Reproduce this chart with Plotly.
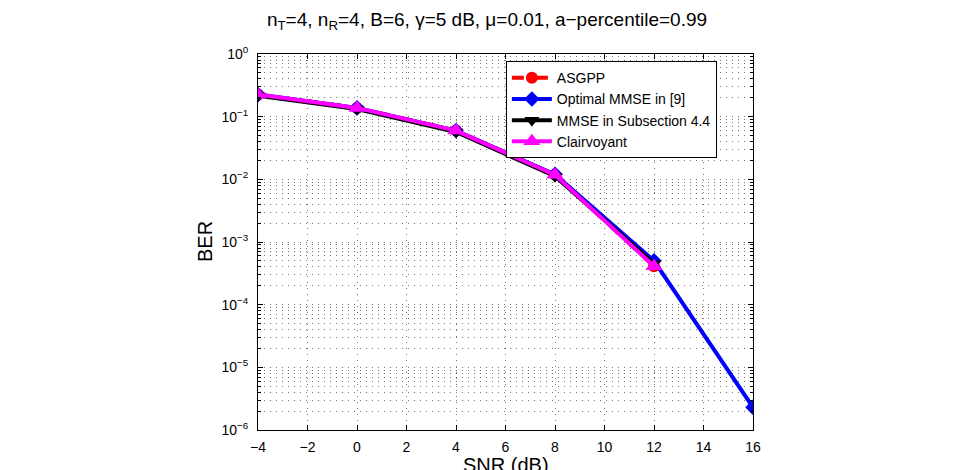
import plotly.graph_objects as go

snr = [-4, 0, 4, 8, 12, 16]
asgpp = [0.225, 0.138, 0.060, 0.0118, 0.00041]
optimal_mmse = [0.225, 0.138, 0.060, 0.0120, 0.00050, 2.3e-6]
mmse_sub44 = [0.215, 0.132, 0.057, 0.0112, 0.00045]
clairvoyant = [0.225, 0.138, 0.060, 0.0118, 0.00041]

ytick_vals = [1e0, 1e-1, 1e-2, 1e-3, 1e-4, 1e-5, 1e-6]
ytick_text = ["10<sup>0</sup>", "10<sup>−1</sup>", "10<sup>−2</sup>", "10<sup>−3</sup>",
              "10<sup>−4</sup>", "10<sup>−5</sup>", "10<sup>−6</sup>"]
xtick_vals = [-4, -2, 0, 2, 4, 6, 8, 10, 12, 14, 16]
xtick_text = ["−4", "−2", "0", "2", "4", "6", "8", "10", "12", "14", "16"]

font = "Liberation Sans, Arial, Helvetica, sans-serif"

fig = go.Figure()
fig.add_trace(go.Scatter(x=snr[:len(asgpp)], y=asgpp, name="ASGPP", mode="lines+markers",
                         line=dict(color="#ff0000", width=4, dash="dash"),
                         marker=dict(symbol="circle", size=12, color="#ff0000")))
fig.add_trace(go.Scatter(x=snr, y=optimal_mmse, name="Optimal MMSE in [9]", mode="lines+markers",
                         line=dict(color="#0000ff", width=4),
                         marker=dict(symbol="diamond", size=12, color="#0000ff")))
fig.add_trace(go.Scatter(x=snr[:len(mmse_sub44)], y=mmse_sub44, name="MMSE in Subsection 4.4",
                         mode="lines+markers",
                         line=dict(color="#000000", width=4),
                         marker=dict(symbol="triangle-down", size=13, color="#000000")))
fig.add_trace(go.Scatter(x=snr[:len(clairvoyant)], y=clairvoyant, name="Clairvoyant",
                         mode="lines+markers",
                         line=dict(color="#ff00ff", width=4),
                         marker=dict(symbol="triangle-up", size=15, color="#ff00ff")))

grid = dict(gridcolor="#777777", gridwidth=1, griddash="1px,5px")

fig.update_layout(
    width=960, height=470,
    margin=dict(l=258, r=207, t=54, b=40),
    paper_bgcolor="white", plot_bgcolor="white",
    font=dict(family=font, size=14, color="black"),
    title=dict(text="n<sub>T</sub>=4, n<sub>R</sub>=4, B=6, γ=5 dB, μ=0.01, a−percentile=0.99",
               x=487 / 960, xanchor="center", y=1 - 19 / 470, yanchor="middle",
               font=dict(size=19, family=font)),
    legend=dict(x=0.927, xanchor="right", y=0.981, yanchor="top",
                bgcolor="white", bordercolor="black", borderwidth=1,
                font=dict(size=14, family=font), tracegroupgap=0, itemwidth=40),
    showlegend=True,
    annotations=[
        dict(text="SNR (dB)", xref="paper", yref="paper", x=0.5, y=-35 / 376,
             xanchor="center", yanchor="middle", showarrow=False, font=dict(size=20)),
        dict(text="BER", xref="paper", yref="paper", x=-53 / 495, y=0.5,
             xanchor="center", yanchor="middle", showarrow=False, textangle=-90,
             font=dict(size=20)),
    ],
)

fig.update_xaxes(range=[-4, 16], tickvals=xtick_vals, ticktext=xtick_text,
                 showline=True, linecolor="black", linewidth=1, mirror="ticks",
                 ticks="inside", ticklen=5, tickcolor="black",
                 showgrid=True, zeroline=False, **grid, automargin=False,
                 tickfont=dict(size=14), ticklabelstandoff=4)
fig.update_yaxes(type="log", range=[-6, 0], tickvals=ytick_vals, ticktext=ytick_text,
                 showline=True, linecolor="black", linewidth=1, mirror="ticks",
                 ticks="inside", ticklen=5, tickcolor="black",
                 showgrid=True, zeroline=False, **grid, automargin=False,
                 minor=dict(dtick="D1", showgrid=True, gridcolor="#777777", griddash="1px,5px",
                            ticks="inside", ticklen=3, tickcolor="black"),
                 tickfont=dict(size=14), ticklabelstandoff=6)

fig.write_html("out.html")
